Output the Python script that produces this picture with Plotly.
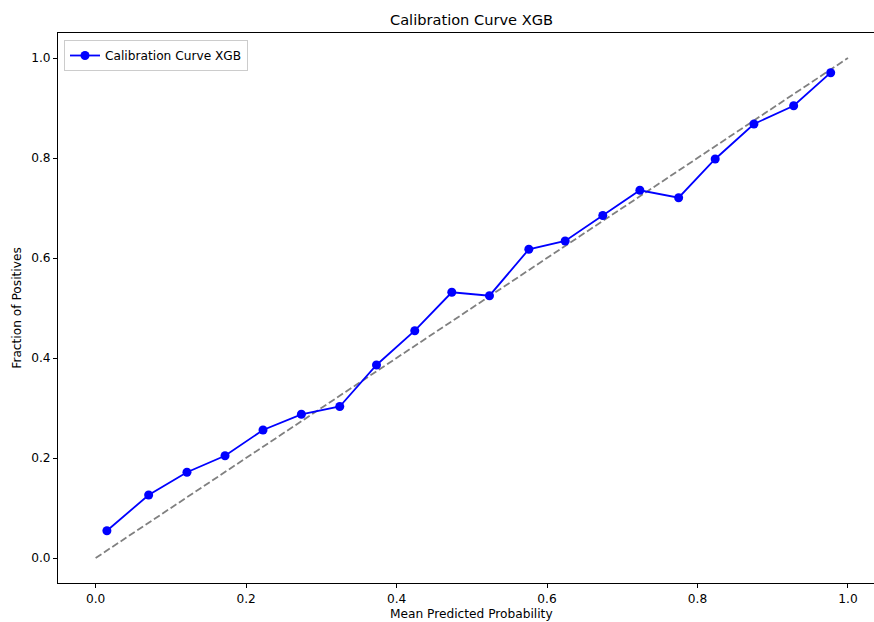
import plotly.graph_objects as go

mean_pred = [0.0150, 0.0705, 0.1214, 0.1720, 0.2225, 0.2735, 0.3245, 0.3733, 0.4242, 0.4734,
             0.5235, 0.5758, 0.6241, 0.6741, 0.7234, 0.7749, 0.8235, 0.8750, 0.9278, 0.9770]
frac_pos = [0.0546, 0.1260, 0.1714, 0.2046, 0.2560, 0.2874, 0.3030, 0.3860, 0.4546, 0.5314,
            0.5246, 0.6174, 0.6340, 0.6850, 0.7354, 0.7206, 0.7980, 0.8680, 0.9046, 0.9706]
diag = [0.0, 1.0]
ticks = [0.0, 0.2, 0.4, 0.6, 0.8, 1.0]
series_name = "Calibration Curve XGB"

font = "DejaVu Sans, Arial, sans-serif"
fs = 12.2
fs_title = 14.6

fig = go.Figure()
fig.add_trace(go.Scatter(x=diag, y=diag, mode="lines", showlegend=False,
                         line=dict(color="#808080", width=1.8, dash="7px,3px")))
fig.add_trace(go.Scatter(x=mean_pred, y=frac_pos, mode="lines+markers", name=series_name,
                         line=dict(color="#0000ff", width=1.8),
                         marker=dict(color="#0000ff", size=9)))

W, H = 874, 622
L, T, B = 58, 33, 39
plot_w = W - L
plot_h = H - T - B

fig.update_layout(
    width=W, height=H,
    margin=dict(l=L, r=0, t=T, b=B, pad=0, autoexpand=False),
    plot_bgcolor="white", paper_bgcolor="white",
    font=dict(family=font, size=fs, color="black"),
    title=dict(text="Calibration Curve XGB", x=471.5 / W,
               xanchor="center", y=1 - 20 / H, yanchor="middle",
               font=dict(size=fs_title, family=font, color="black")),
    legend=dict(x=(64 - L) / plot_w, y=1 - (40 - T) / plot_h, xanchor="left", yanchor="top",
                bgcolor="rgba(255,255,255,0.8)", bordercolor="#cccccc", borderwidth=1,
                font=dict(size=fs, family=font), itemwidth=30),
    showlegend=True,
    annotations=[dict(text="Mean Predicted Probability", xref="paper", yref="paper",
                      x=(471.5 - L) / plot_w, y=-(614 - (H - B)) / plot_h,
                      xanchor="center", yanchor="middle", showarrow=False,
                      font=dict(size=fs, family=font, color="black"))],
)
fig.update_xaxes(range=[-0.05, (874 - 96) / 752], tickvals=ticks, tickformat=".1f",
                 automargin=False,
                 showgrid=False, zeroline=False, showline=True, linecolor="black", linewidth=1,
                 mirror=True, ticks="outside", ticklen=4, tickwidth=1, tickcolor="black")
fig.update_yaxes(range=[-0.05, 1.05], tickvals=ticks, tickformat=".1f",
                 automargin=False,
                 showgrid=False, zeroline=False, showline=True, linecolor="black", linewidth=1,
                 mirror=False, ticks="outside", ticklen=4, tickwidth=1, tickcolor="black",
                 title=dict(text="Fraction of Positives", standoff=6, font=dict(size=fs)))

fig.write_html("out.html")
